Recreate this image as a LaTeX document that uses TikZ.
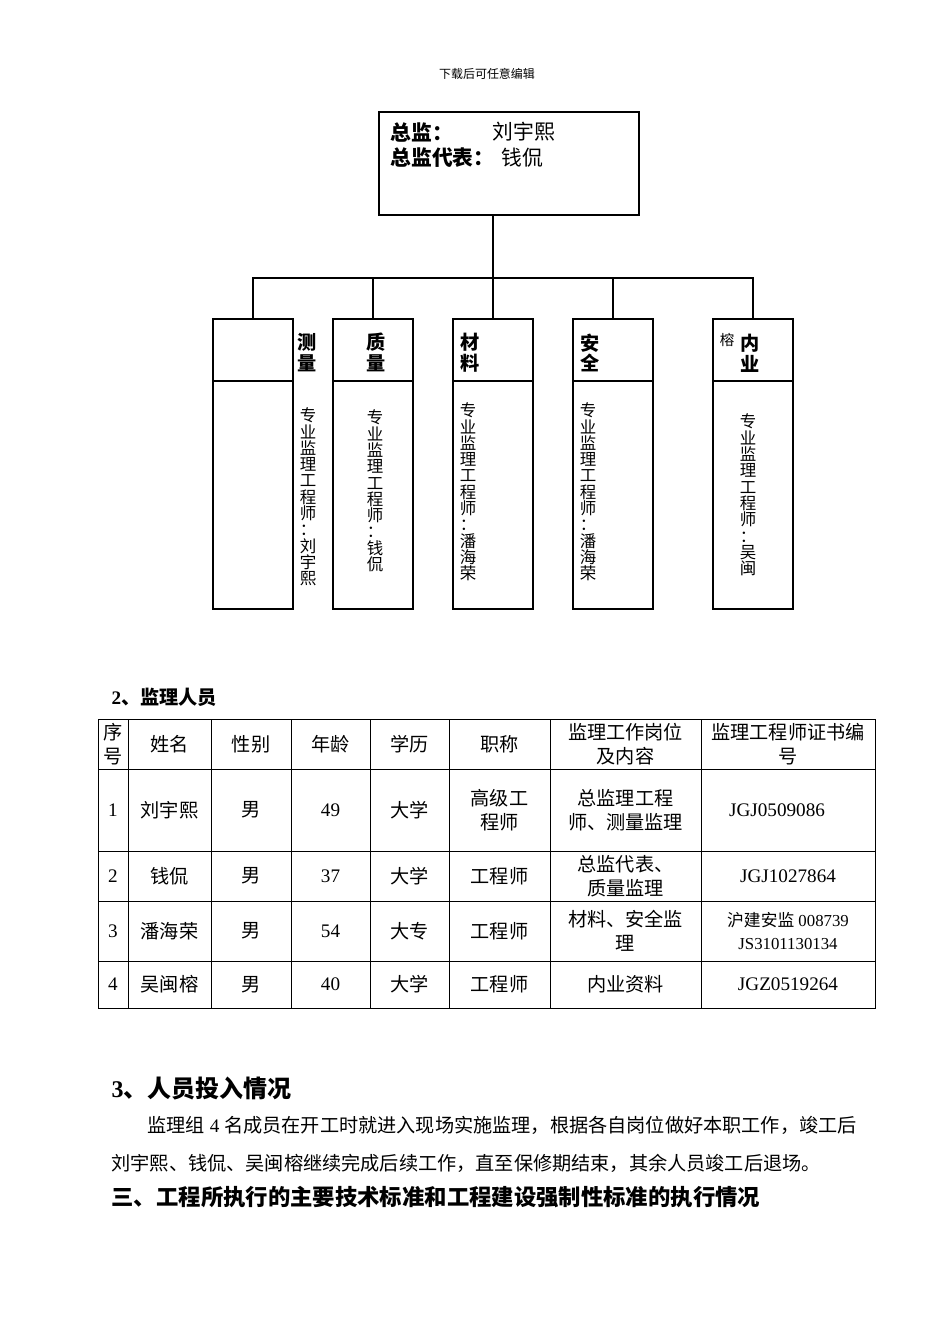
\documentclass[tikz,border=0pt]{standalone}
\usepackage{fontspec}
\setmainfont{Liberation Serif}
\newfontfamily\cjk{Noto Sans CJK SC}
\usetikzlibrary{positioning}
\newcommand\pxu{0.626pt}

\begin{document}
\begin{tikzpicture}[
    x=\pxu, y=-\pxu,
    line width=0.7pt,
    head/.style={draw, minimum width={260*\pxu}, minimum height={103*\pxu}, inner sep=0pt},
    box/.style={draw, minimum width={80*\pxu}, minimum height={290*\pxu}, inner sep=0pt},
    hlab/.style={font=\cjk\bfseries\fontsize{12}{13}\selectfont, align=center, inner sep=0pt},
    vlab/.style={font=\cjk\fontsize{10.3}{10.2}\selectfont, align=center, inner sep=0pt},
    cell/.style={font=\cjk\fontsize{12}{15}\selectfont, align=center, inner sep=0pt},
    num/.style={font=\fontsize{12}{15}\selectfont, align=center, inner sep=0pt},
    line/.style={anchor=west, inner sep=0pt}
  ]
    \useasboundingbox (0,0) rectangle (950,1344);

    \node[font=\cjk\fontsize{7.5}{9}\selectfont] (note) at (487,74) {下载后可任意编辑};

    % chart
    \node[head] (top) at (509,163.5) {};
    \node[line, font=\cjk\bfseries\fontsize{13}{15}\selectfont] (dir)  at (390,132) {总监：};
    \node[line, font=\cjk\fontsize{13}{15}\selectfont]          (dirn) at (492,132) {刘宇熙};
    \node[line, font=\cjk\bfseries\fontsize{13}{15}\selectfont] (rep)  at (390,158) {总监代表：};
    \node[line, font=\cjk\fontsize{13}{15}\selectfont]          (repn) at (501,158) {钱侃};

    \node[box] (b1) at (253,464) {};
    \node[box] (b2) at (373,464) {};
    \node[box] (b3) at (493,464) {};
    \node[box] (b4) at (613,464) {};
    \node[box] (b5) at (753,464) {};

    \coordinate (bus) at (493,278);
    \coordinate (hdr) at (0,381);
    \foreach \b in {b1,b2,b3,b4,b5}
      \draw (\b.west |- hdr) -- (\b.east |- hdr);

    \draw (bus |- top.south) -- (bus);
    \draw (b1.north) -- (b1.north |- bus) -| (b5.north);
    \foreach \b in {b2,b3,b4}
      \draw (\b.north) -- (\b.north |- bus);

    \node[hlab] (h1) at (307,352.5) {测\\量};
    \node[hlab] (h2) at (376,352.5) {质\\量};
    \node[hlab] (h3) at (470,353) {材\\料};
    \node[hlab] (h4) at (590,353) {安\\全};
    \node[font=\cjk\fontsize{9}{10}\selectfont, inner sep=0pt] (h5a) at (727,340) {榕};
    \node[hlab] (h5) at (750,353) {内\\业};

    \node[vlab] (v1) at (308,497) {专\\业\\监\\理\\工\\程\\师\\：\\刘\\宇\\熙};
    \node[vlab] (v2) at (375,491) {专\\业\\监\\理\\工\\程\\师\\：\\钱\\侃};
    \node[vlab] (v3) at (468,492) {专\\业\\监\\理\\工\\程\\师\\：\\潘\\海\\荣};
    \node[vlab] (v4) at (588,492) {专\\业\\监\\理\\工\\程\\师\\：\\潘\\海\\荣};
    \node[vlab] (v5) at (748,495) {专\\业\\监\\理\\工\\程\\师\\：\\吴\\闽};

    % staff table
    \node[line, font=\bfseries\fontsize{12}{14}\selectfont] (t2) at (111,697) {2{\cjk 、监理人员}};

    \draw[line width=0.6pt] (98,719) rectangle (875,1008);
    \foreach \x in {128,211,291,370,449,550,701}
      \draw[line width=0.6pt] (\x,719) -- (\x,1008);
    \foreach \y in {769,851,901,961}
      \draw[line width=0.6pt] (98,\y) -- (875,\y);

    \node[cell] (c1) at (113,744) {序\\号};
    \node[cell] (c2) at (169.5,744) {姓名};
    \node[cell] (c3) at (251,744) {性别};
    \node[cell] (c4) at (330.5,744) {年龄};
    \node[cell] (c5) at (409.5,744) {学历};
    \node[cell] (c6) at (499.5,744) {职称};
    \node[cell] (c7) at (625.5,744) {监理工作岗位\\及内容};
    \node[cell] (c8) at (788,744) {监理工程师证书编\\号};

    \foreach \n/\y/\name/\edu/\title/\job in {
        1/810/刘宇熙/大学/{高级工\\程师}/{总监理工程\\师、测量监理},
        2/876/钱侃/大学/工程师/{总监代表、\\质量监理},
        3/931/潘海荣/大专/工程师/{材料、安全监\\理},
        4/984.5/吴闽榕/大学/工程师/内业资料} {
      \node[num]  (n\n) at (113,\y) {\n};
      \node[cell] (m\n) at (169.5,\y) {\name};
      \node[cell] (s\n) at (251,\y) {男};
      \node[cell] (e\n) at (409.5,\y) {\edu};
      \node[cell] (t\n) at (499.5,\y) {\title};
      \node[cell] (j\n) at (625.5,\y) {\job};
    }
    \node[num] (a1) at (330.5,810) {49};
    \node[num] (a2) at (330.5,876) {37};
    \node[num] (a3) at (330.5,931) {54};
    \node[num] (a4) at (330.5,984.5) {40};
    \node[num] (z1) at (777,810) {JGJ0509086};
    \node[num] (z2) at (788,876) {JGJ1027864};
    \node[num, font=\fontsize{10.5}{15}\selectfont] (z3) at (788,931) {{\cjk 沪建安监} 008739\\JS3101130134};
    \node[num] (z4) at (788,984.5) {JGZ0519264};

    % staffing text
    \node[line, font=\bfseries\fontsize{15}{17}\selectfont] (t3) at (111,1088) {3{\cjk 、人员投入情况}};
    \node[line, font=\fontsize{12}{14}\selectfont] (p1) at (147,1125)
      {{\cjk 监理组} 4 {\cjk 名成员在开工时就进入现场实施监理，根据各自岗位做好本职工作，竣工后}};
    \node[line, font=\cjk\fontsize{12}{14}\selectfont] (p2) at (111,1163)
      {刘宇熙、钱侃、吴闽榕继续完成后续工作，直至保修期结束，其余人员竣工后退场。};
    \node[line, font=\cjk\bfseries\fontsize{14}{16}\selectfont] (t4) at (111,1197)
      {三、工程所执行的主要技术标准和工程建设强制性标准的执行情况};
  \end{tikzpicture}
\end{document}
